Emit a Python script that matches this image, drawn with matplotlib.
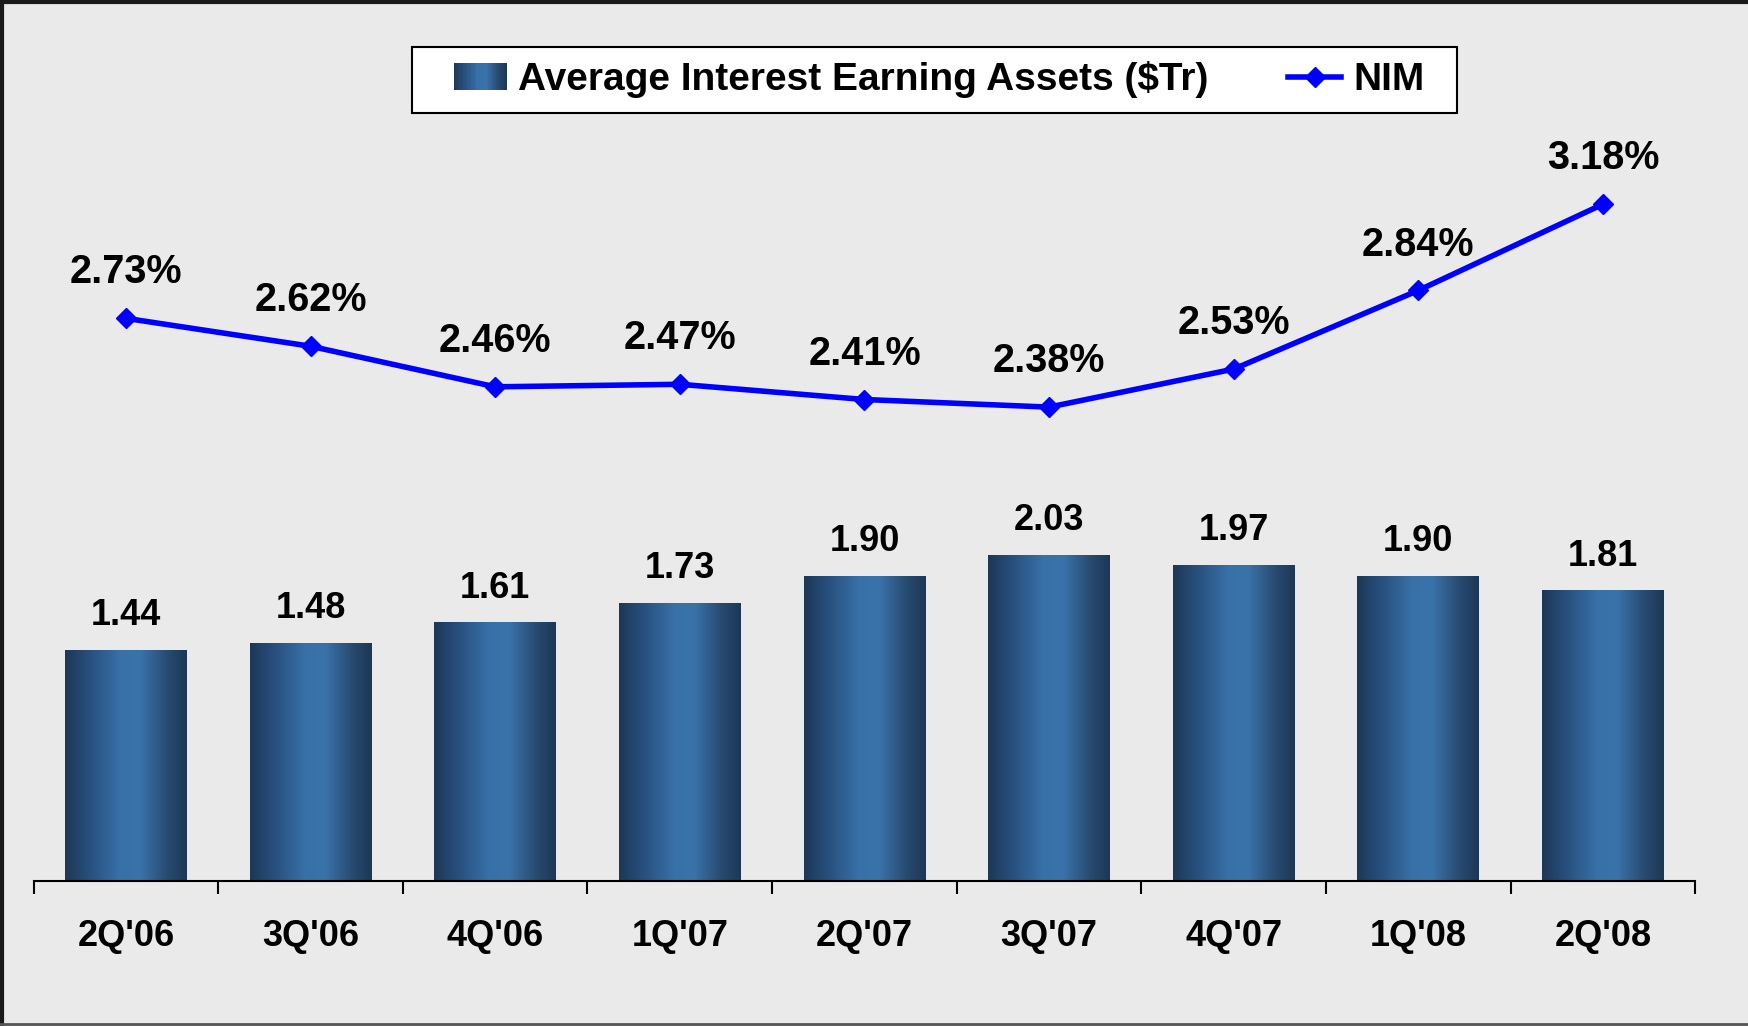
import matplotlib
matplotlib.use("Agg")
import matplotlib.pyplot as plt
import numpy as np
from matplotlib.colors import LinearSegmentedColormap
from matplotlib.legend_handler import HandlerBase
from matplotlib.patches import Rectangle
from matplotlib.lines import Line2D

## data
quarters = ["2Q'06", "3Q'06", "4Q'06", "1Q'07", "2Q'07", "3Q'07", "4Q'07", "1Q'08", "2Q'08"]
assets = [1.44, 1.48, 1.61, 1.73, 1.90, 2.03, 1.97, 1.90, 1.81]
nim = [2.73, 2.62, 2.46, 2.47, 2.41, 2.38, 2.53, 2.84, 3.18]

bg = "#EAEAEA"
plt.rcParams["font.family"] = ["Liberation Sans", "DejaVu Sans"]
plt.rcParams["font.weight"] = "bold"

## horizontal shading of the bars: dark edges, light middle
barCmap = LinearSegmentedColormap.from_list("bars", [
    (0.0, "#1D3756"), (0.18, "#274D7A"), (0.45, "#3870A8"),
    (0.62, "#3A72AA"), (0.85, "#27496F"), (1.0, "#1D3756")])


class GradientHandler(HandlerBase):
    # draws the legend key as a small shaded square
    def create_artists(self, legend, orig_handle, xdescent, ydescent,
                       width, height, fontsize, trans):
        n = 40
        parts = []
        for i in range(n):
            r = Rectangle((-xdescent + width * i / n, -ydescent), width / n * 1.05, height,
                          facecolor=barCmap((i + 0.5) / n), edgecolor="none", transform=trans)
            parts.append(r)
        return parts


fig = plt.figure(figsize=(17.49, 10.26), dpi=100, facecolor=bg)
ax = fig.add_axes([0.0192, 0.1413, 0.9501, 0.826])
ax.set_facecolor(bg)

x = np.arange(len(quarters))
bars = ax.bar(x, assets, width=0.66, color="none", edgecolor="none", zorder=2)

grad = np.linspace(0, 1, 256).reshape(1, -1)
for b in bars:
    ax.imshow(grad, extent=[b.get_x(), b.get_x() + b.get_width(), 0, b.get_height()],
              aspect="auto", cmap=barCmap, zorder=2, interpolation="bilinear")

for xi, v in zip(x, assets):
    ax.annotate(f"{v:.2f}", (xi, v), xytext=(0, 25), textcoords="offset points",
                ha="center", va="center", fontsize=26, fontweight="bold")

ax.set_xlim(-0.5, len(quarters) - 0.5)
ax.set_ylim(0, 5.285)
ax.set_yticks([])
for s in ["top", "right", "left"]:
    ax.spines[s].set_visible(False)
ax.spines["bottom"].set_linewidth(1.5)
ax.set_xticks(np.arange(-0.5, len(quarters), 1.0))
ax.set_xticklabels([])
ax.tick_params(axis="x", which="major", direction="out", length=9.5, width=1.5)
ax.set_xticks(x, minor=True)
ax.set_xticklabels(quarters, minor=True, fontsize=26, fontweight="bold")
ax.tick_params(axis="x", which="minor", length=0, pad=27)

ax2 = ax.twinx()
ax2.plot(x, nim, color="#0000FF", lw=4, marker="D", ms=10, zorder=3)
for xi, v in zip(x, nim):
    ax2.annotate(f"{v:.2f}%", (xi, v), xytext=(0, 33), textcoords="offset points",
                 ha="center", va="center", fontsize=28.5, fontweight="bold")
ax2.set_ylim(0.512, 3.8525)
ax2.set_yticks([])
for s in ["top", "right", "left", "bottom"]:
    ax2.spines[s].set_visible(False)

keys = [Rectangle((0, 0), 1, 1),
        Line2D([], [], color="#0000FF", lw=4, marker="D", ms=10)]
leg = fig.legend(keys, ["Average Interest Earning Assets ($Tr)", "NIM"],
                 handler_map={Rectangle: GradientHandler()},
                 loc="center", bbox_to_anchor=(0.5369, 0.9223), ncol=2,
                 fontsize=28, frameon=False,
                 handlelength=1.36, handletextpad=0.3, columnspacing=2.05,
                 borderpad=0.0)
for t in leg.get_texts():
    t.set_fontweight("bold")
leg.set_zorder(5)

## legend box drawn around the packed entries, wider at the sides like the original
fig.canvas.draw()
bb = leg._legend_handle_box.get_window_extent(fig.canvas.get_renderer())
cy = (bb.y0 + bb.y1) / 2
box = Rectangle((bb.x0 - 42, cy - 33), bb.width + 42 + 33, 66, transform=None,
                facecolor="white", edgecolor="black", lw=1.5, zorder=1)
fig.add_artist(box)

## outer frame (top, left, bottom)
fig.add_artist(Line2D([0, 1], [0.998, 0.998], transform=fig.transFigure, color="#1a1a1a", lw=3))
fig.add_artist(Line2D([0.001, 0.001], [0, 1], transform=fig.transFigure, color="#1a1a1a", lw=3))
fig.add_artist(Line2D([0, 1], [0.002, 0.002], transform=fig.transFigure, color="#555555", lw=2))

fig.savefig("out.png", dpi=100, facecolor=bg)
